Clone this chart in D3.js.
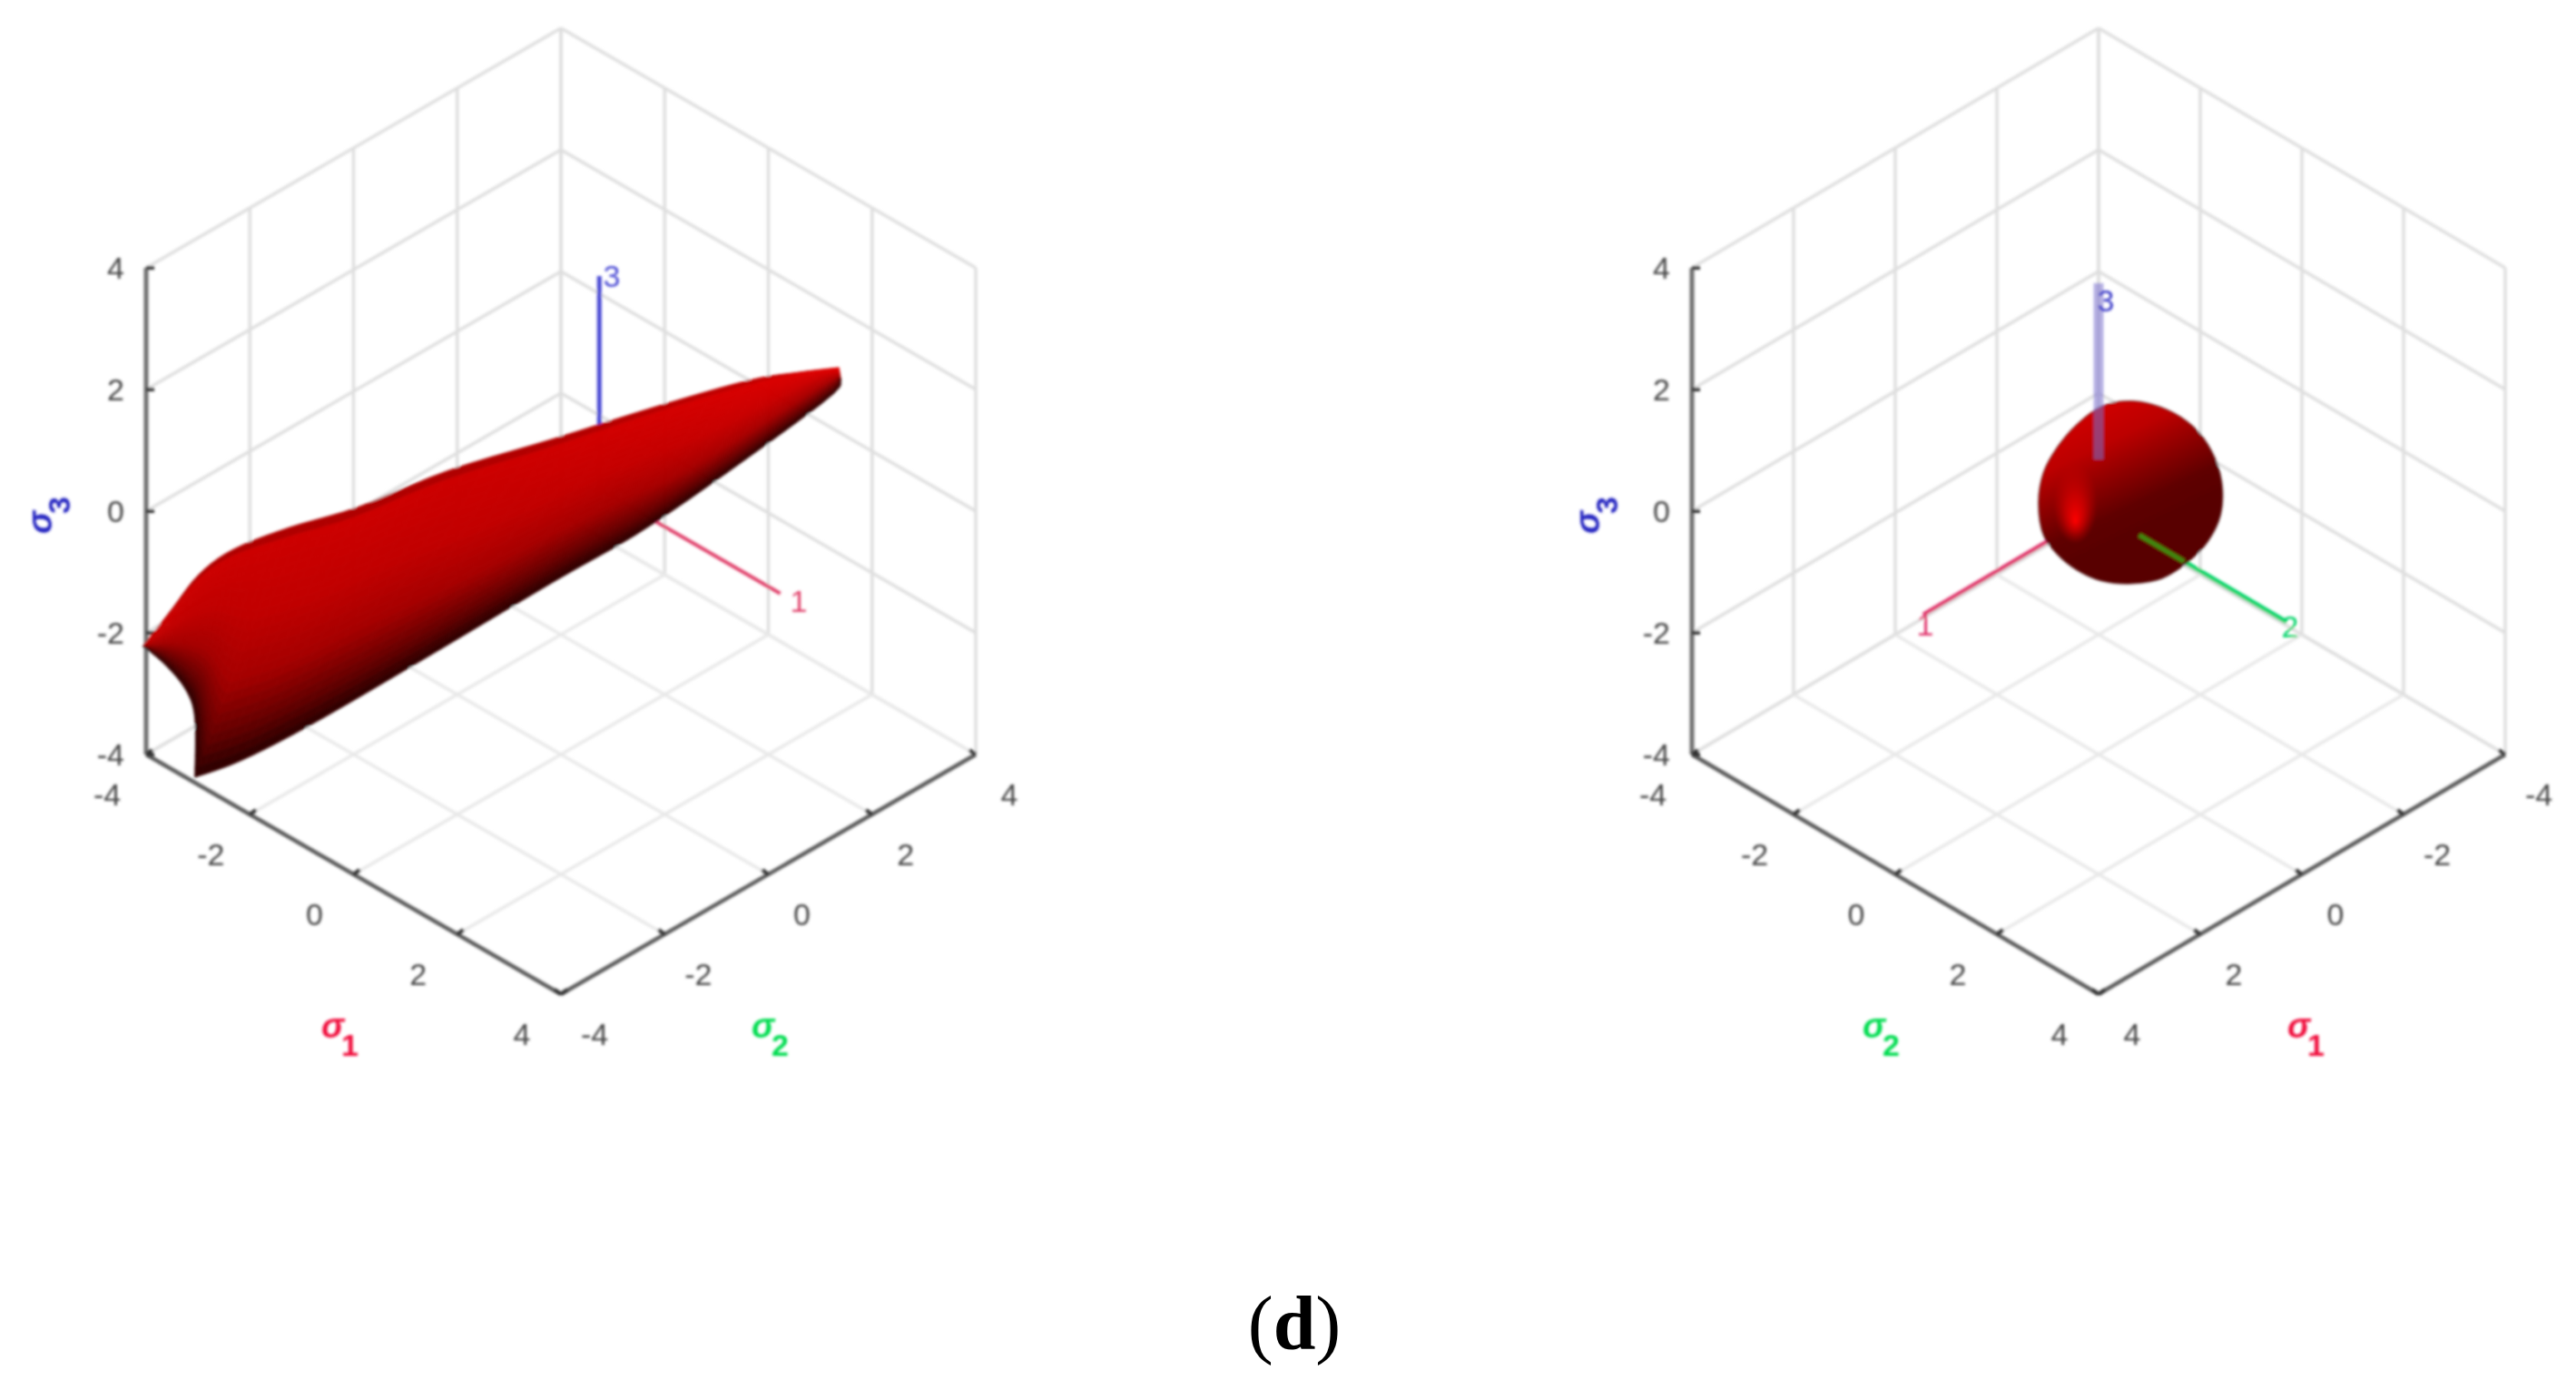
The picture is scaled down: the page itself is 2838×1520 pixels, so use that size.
<!DOCTYPE html>
<html>
<head>
<meta charset="utf-8">
<script src="https://cdn.jsdelivr.net/npm/d3@7"></script>
<style>
  html, body { margin: 0; background: white; }
  text { font-family: "Liberation Sans", sans-serif; }
</style>
</head>
<body>
<div id="chart"></div>
<script>
const tickValues = [-4, -2, 0, 2, 4];

// blade surface silhouette, [s1, s2, s3], upper and lower edge, left to right
const bladeUpper = [
  [-4.03, -4.03, -2.22], [-3.76, -3.76, -1.63], [-3.49, -3.49, -1.04], [-3.16, -3.16, -0.63],
  [-2.62, -2.62, -0.27], [-1.95, -1.95, 0.07], [-1.08, -1.08, 0.67], [-0.07, -0.07, 1.19],
  [0.94, 0.94, 1.73], [1.81, 1.81, 2.15], [2.28, 2.28, 2.28], [2.68, 2.68, 2.36]
];
const bladeLower = [
  [-4.03, -4.03, -2.22], [-3.82, -3.82, -2.52], [-3.62, -3.62, -2.93], [-3.53, -3.53, -3.40],
  [-3.15, -3.91, -4.00], [-2.68, -3.50, -3.70], [-2.42, -2.42, -3.52], [-1.41, -1.41, -2.52],
  [-0.07, -0.07, -1.16], [0.94, 0.94, -0.15], [2.50, 2.50, 1.75], [2.70, 2.70, 2.15]
];
const bladeGlow = [0, 0, 0, 0, 0, 0, 0, 0.05, 0.15, 0.25, 0.4, 0.55];
const bladeShadeStops = [0, 0.06, 0.35, 0.62, 0.85, 1];
const bladeShadeColors = ["#a00000", "#cc0000", "#c00000", "#a40000", "#620000", "#2a0000"];

// cone surface outline, [s1, s2, s3]
const coneOutline = [
  [-0.33, 0.33, 1.81], [-0.67, 0.67, 1.67], [-0.93, 0.93, 1.39], [-1.11, 1.11, 0.99], [-1.21, 1.21, 0.49],
  [-1.20, 1.20, -0.06], [-1.07, 1.07, -0.51], [-0.89, 0.89, -0.82], [-0.63, 0.63, -1.10], [-0.33, 0.33, -1.19],
  [-0.04, 0.04, -1.15], [0.21, -0.21, -0.97], [0.41, -0.41, -0.70], [0.54, -0.54, -0.40], [0.59, -0.59, 0.15],
  [0.54, -0.54, 0.64], [0.41, -0.41, 1.04], [0.21, -0.21, 1.43], [-0.04, 0.04, 1.73]
];

// principal axes lines: start, end
const leftAxis3 = [[0, 0.74, 0], [0, 0.74, 3.5]];
const leftAxis1 = [[0, 0.74, 0], [3.49, 0.74, 0]];
const rightAxis1 = [[0, 0, 0], [3.45, 0, 0]];
const rightAxis2 = [[0, 0.8, 0], [0, 3.7, 0]];
const rightAxis2Inside = [[0, 0.8, 0], [0, 1.68, 0]];
const rightAxis3 = [[0, 0, 0.85], [0, 0, 3.75]];

const width = 2838, height = 1520;

const svg = d3.select("#chart").append("svg")
  .attr("width", width)
  .attr("height", height)
  .style("display", "block")
  .style("background", "white");

const defs = svg.append("defs");
defs.append("filter").attr("id", "soft").attr("x", "-5%").attr("y", "-5%").attr("width", "110%").attr("height", "110%")
  .append("feGaussianBlur").attr("stdDeviation", 1.6);

const coneGrad = defs.append("linearGradient").attr("id", "coneGrad")
  .attr("x1", 0.2).attr("y1", 0).attr("x2", 0.55).attr("y2", 0.72);
[[0, "#d80000"], [0.35, "#bc0000"], [0.62, "#860000"], [0.82, "#5e0000"], [1, "#580000"]].forEach(s => {
  coneGrad.append("stop").attr("offset", s[0]).attr("stop-color", s[1]);
});
const coneSpot = defs.append("radialGradient").attr("id", "coneSpot")
  .attr("cx", 0).attr("cy", 0).attr("r", 1).attr("fx", 0).attr("fy", 0.45)
  .attr("gradientTransform", "translate(0.2,0.56) scale(0.12,0.22)");
[[0, "#ff0000", 1], [0.45, "#ee0000", 0.6], [1, "#d00000", 0]].forEach(s => {
  coneSpot.append("stop").attr("offset", s[0]).attr("stop-color", s[1]).attr("stop-opacity", s[2]);
});

// view: sign of s1/s2 on screen decides which corner each axis runs along
function makeView(cx, cy, half, rise, s1x, s2x, s1y, s2y) {
  const dom = [-4, 4];
  const x1 = d3.scaleLinear().domain(dom).range([-half * s1x, half * s1x]);
  const x2 = d3.scaleLinear().domain(dom).range([-half * s2x, half * s2x]);
  const y1 = d3.scaleLinear().domain(dom).range([-rise * s1y, rise * s1y]);
  const y2 = d3.scaleLinear().domain(dom).range([-rise * s2y, rise * s2y]);
  const y3 = d3.scaleLinear().domain(dom).range([268, -268]);
  return p => [cx + x1(p[0]) + x2(p[1]), cy + y1(p[0]) + y2(p[1]) + y3(p[2])];
}

const line = d3.line();

function drawFrame(g, project, wall1, wall2, labels) {
  const grid = g.append("g").attr("fill", "none").attr("stroke", "#dedede").attr("stroke-width", 3.4);
  const seg = (a, b, c) => grid.append("path").attr("d", line([project(a), project(b)])).attr("stroke", c || null);
  const far1 = -wall1, far2 = -wall2;
  tickValues.forEach(v => {
    // floor
    seg([v, -4, -4], [v, 4, -4], "#e8e8e8");
    seg([-4, v, -4], [4, v, -4], "#e8e8e8");
    // walls
    seg([wall1, v, -4], [wall1, v, 4]);
    seg([v, wall2, -4], [v, wall2, 4]);
    seg([wall1, far2, v], [wall1, wall2, v]);
    seg([wall1, wall2, v], [far1, wall2, v]);
  });

  // box edges with ticks
  const edge = g.append("g").attr("fill", "none").attr("stroke", "#5c5c5c").attr("stroke-width", 4.5);
  const c3 = labels.s3Corner;
  edge.append("path").attr("d", line([project([c3[0], c3[1], -4]), project([c3[0], c3[1], 4])])).attr("stroke", "#6e6e6e").attr("stroke-width", 5);
  edge.append("path").attr("d", line([project(labels.leftEdge(-4)), project(labels.leftEdge(4))]));
  edge.append("path").attr("d", line([project(labels.rightEdge(-4)), project(labels.rightEdge(4))]));

  const tick = (p, dx, dy) => {
    const q = project(p);
    edge.append("path").attr("d", line([q, [q[0] + dx, q[1] + dy]])).attr("stroke", "#333").attr("stroke-width", 4);
  };
  const txt = g.append("g").attr("font-size", 34).attr("fill", "#444");
  tickValues.forEach(v => {
    tick([c3[0], c3[1], v], 9, 0);
    const a = project([c3[0], c3[1], v]);
    txt.append("text").attr("x", a[0] - 24).attr("y", a[1]).attr("dy", "0.35em").attr("text-anchor", "end").text(v);

    const pA = labels.leftEdge(v), qA = project(pA);
    tick(pA, 7, -5);
    txt.append("text").attr("x", qA[0] - 43).attr("y", qA[1] + 44).attr("dy", "0.35em").attr("text-anchor", "middle").text(v);

    const pB = labels.rightEdge(v), qB = project(pB);
    tick(pB, -7, -5);
    txt.append("text").attr("x", qB[0] + 37).attr("y", qB[1] + 44).attr("dy", "0.35em").attr("text-anchor", "middle").text(v);
  });
}

function axisLabel(g, x, y, sub, color) {
  const t = g.append("g").attr("transform", `translate(${x},${y})`).attr("fill", color);
  t.append("text").attr("font-family", "Liberation Serif").attr("font-style", "italic").attr("font-weight", "bold").attr("font-size", 38).attr("x", -8).attr("y", 0).text("σ");
  t.append("text").attr("font-weight", "bold").attr("font-size", 34).attr("x", 14).attr("y", 20).text(sub);
}

function axisLine(g, project, pts, color, w, op) {
  g.append("path").attr("d", line(pts.map(project)))
    .attr("fill", "none").attr("stroke", color).attr("stroke-width", w).attr("stroke-opacity", op === undefined ? 1 : op);
}

function digit(g, x, y, s, color) {
  g.append("text").attr("x", x).attr("y", y).attr("dy", "0.35em").attr("text-anchor", "middle")
    .attr("font-size", 34).attr("fill", color).text(s);
}

// catmull-rom through the read points, only to round off the mesh, corners stay sharp
function smoothEdge(pts, corners, steps) {
  const out = [];
  d3.range(pts.length - 1).forEach(i => {
    const p1 = pts[i], p2 = pts[i + 1];
    const p0 = i === 0 || corners.includes(i) ? p1 : pts[i - 1];
    const p3 = i === pts.length - 2 || corners.includes(i + 1) ? p2 : pts[i + 2];
    d3.range(steps).forEach(k => {
      const t = k / steps;
      out.push([0, 1].map(c => 0.5 * (2 * p1[c] + (p2[c] - p0[c]) * t
        + (2 * p0[c] - 5 * p1[c] + 4 * p2[c] - p3[c]) * t * t
        + (3 * p1[c] - p0[c] - 3 * p2[c] + p3[c]) * t * t * t)));
    });
  });
  out.push(pts[pts.length - 1]);
  return out;
}

// ---- left plot
const leftProject = makeView(618, 563, 228.5, 132, 1, 1, 1, -1);
const left = svg.append("g").attr("filter", "url(#soft)");
drawFrame(left, leftProject, -4, 4, {
  s3Corner: [-4, -4],
  leftEdge: v => [v, -4, -4],
  rightEdge: v => [4, v, -4]
});
axisLabel(left, 362, 1143, "1", "#f0103c");
axisLabel(left, 836, 1143, "2", "#00dc50");
axisLabel(left.append("g").attr("transform", "rotate(-90 55 563)"), 38, 565, "3", "#2222c0");

axisLine(left, leftProject, leftAxis3, "#4a4ad4", 5);
axisLine(left, leftProject, leftAxis1, "#e0406a", 4);
digit(left, 674, 304, "3", "#4a4ad4");
digit(left, 880, 662, "1", "#e0406a");

// blade as strips between upper and lower edge
const bladeShade = d3.scaleLinear().domain(bladeShadeStops).range(bladeShadeColors);
const glowAt = d3.scaleLinear().domain(d3.range(bladeGlow.length)).range(bladeGlow);
const bandCount = d3.range(24);
const steps = 5;
const blade = left.append("g");
const upperPts = smoothEdge(bladeUpper.map(leftProject), [], steps);
const lowerPts = smoothEdge(bladeLower.map(leftProject), [4], steps);
const mix = (a, b, f) => [a[0] + (b[0] - a[0]) * f, a[1] + (b[1] - a[1]) * f];
d3.range(upperPts.length - 1).forEach(i => {
  bandCount.forEach(j => {
    const f0 = j / bandCount.length, f1 = (j + 1) / bandCount.length, fm = (f0 + f1) / 2;
    const quad = [
      mix(upperPts[i], lowerPts[i], f0), mix(upperPts[i + 1], lowerPts[i + 1], f0),
      mix(upperPts[i + 1], lowerPts[i + 1], f1), mix(upperPts[i], lowerPts[i], f1)
    ];
    const c = d3.interpolateRgb(bladeShade(fm), "#ff1010")(glowAt(i / steps) * (1 - fm) * (1 - fm));
    blade.append("path").attr("d", line(quad) + "Z").attr("fill", c).attr("stroke", c).attr("stroke-width", 1);
  });
});

// ---- right plot
const rightProject = makeView(2312, 563, 224, 132, -1, 1, 1, 1);
const right = svg.append("g").attr("filter", "url(#soft)");
drawFrame(right, rightProject, -4, -4, {
  s3Corner: [4, -4],
  leftEdge: v => [4, v, -4],
  rightEdge: v => [v, 4, -4]
});
axisLabel(right, 2060, 1143, "2", "#00dc50");
axisLabel(right, 2528, 1143, "1", "#f0103c");
axisLabel(right.append("g").attr("transform", "rotate(-90 1760 563)"), 1743, 565, "3", "#2222c0");

axisLine(right, rightProject, rightAxis1, "#e0306a", 4.5);
axisLine(right, rightProject, rightAxis2, "#00d468", 5);

const coneD = d3.line().curve(d3.curveCatmullRomClosed)(coneOutline.map(rightProject));
right.append("path").attr("d", coneD).attr("fill", "url(#coneGrad)").attr("stroke", "#3a0000").attr("stroke-opacity", 0.6).attr("stroke-width", 1.5);
right.append("path").attr("d", coneD).attr("fill", "url(#coneSpot)");

axisLine(right, rightProject, rightAxis2Inside, "#3f8a10", 5);
axisLine(right, rightProject, rightAxis3, "#7a70d0", 11, 0.55);
digit(right, 2320, 331, "3", "#3a3ac8");
digit(right, 2121, 688, "1", "#e0306a");
digit(right, 2523, 690, "2", "#00d468");

// ---- panel tag
const tag = svg.append("text").attr("x", 1426).attr("y", 1486).attr("text-anchor", "middle")
  .attr("font-size", 84).attr("fill", "#000").style("font-family", "Liberation Serif");
tag.append("tspan").text("(");
tag.append("tspan").attr("font-weight", "bold").text("d");
tag.append("tspan").text(")");
</script>
</body>
</html>
